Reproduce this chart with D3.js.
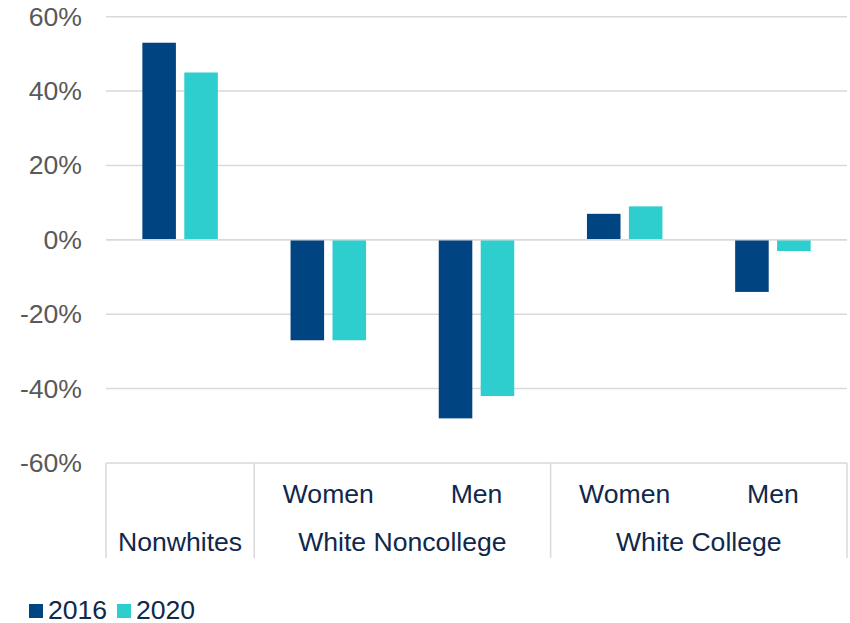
<!DOCTYPE html>
<html><head><meta charset="utf-8">
<script src="https://cdn.jsdelivr.net/npm/d3@7"></script>
<style>body{margin:0;background:#fff}svg{display:block;font-family:"Liberation Sans",Arial,sans-serif}</style>
</head><body><svg id="c" width="850" height="623"></svg>
<script>
const subLabels = ["", "Women", "Men", "Women", "Men"];
const groups = [
  {name: "Nonwhites", span: [0, 0]},
  {name: "White Noncollege", span: [1, 2]},
  {name: "White College", span: [3, 4]}
];
const series = ["2016", "2020"];
const values2016 = [53, -27, -48, 7, -14];
const values2020 = [45, -27, -42, 9, -3];
const yTicks = [60, 40, 20, 0, -20, -40, -60];
const colors = ["#004481", "#2ecece"];

(function () {
const svg = d3.select("#c");
const pLeft = 106, pRight = 847, pTop = 16.7, pBottom = 463;
const fs = 26.6;
const idx = d3.range(subLabels.length);
const x0 = d3.scaleBand().domain(idx).range([pLeft, pRight]);
const x1 = d3.scaleBand().domain(series).range([36.35, x0.bandwidth() - 36.35]).paddingInner(0.2);
const y = d3.scaleLinear().domain([-60, 60]).range([pBottom, pTop]);

// gridlines
svg.append("g").selectAll("line").data(yTicks).join("line")
  .attr("x1", pLeft).attr("x2", pRight)
  .attr("y1", d => y(d)).attr("y2", d => y(d))
  .attr("stroke", "#d9d9d9").attr("stroke-width", 1.5);

// y labels
svg.append("g").selectAll("text").data(yTicks).join("text")
  .attr("x", 82).attr("y", d => y(d) + 9)
  .attr("text-anchor", "end").attr("fill", "#595959")
  .attr("font-size", fs).text(d => d + "%");

// bars
const data = idx.map(i => ({i, vals: [values2016[i], values2020[i]]}));
const g = svg.append("g").selectAll("g").data(data).join("g")
  .attr("transform", d => `translate(${x0(d.i)},0)`);
g.selectAll("rect").data(d => d.vals.map((v, k) => ({v, k})))
  .join("rect")
  .attr("x", d => x1(series[d.k]))
  .attr("width", x1.bandwidth())
  .attr("y", d => y(Math.max(0, d.v)))
  .attr("height", d => Math.abs(y(d.v) - y(0)))
  .attr("fill", d => colors[d.k]);

// zero line on top
svg.append("line").attr("x1", pLeft).attr("x2", pRight).attr("y1", y(0)).attr("y2", y(0))
  .attr("stroke", "#d9d9d9").attr("stroke-width", 1.5);

// category separators
const sepX = [pLeft].concat(groups.map(gr => x0(gr.span[1]) + x0.bandwidth()));
svg.append("g").selectAll("line").data(sepX).join("line")
  .attr("x1", d => d).attr("x2", d => d)
  .attr("y1", pBottom).attr("y2", 558)
  .attr("stroke", "#d9d9d9").attr("stroke-width", 1.5);

const navy = "#10284b";
svg.append("g").selectAll("text").data(idx.filter(i => subLabels[i])).join("text")
  .attr("x", i => x0(i) + x0.bandwidth() / 2).attr("y", 503)
  .attr("text-anchor", "middle").attr("fill", navy).attr("font-size", fs)
  .text(i => subLabels[i]);

svg.append("g").selectAll("text").data(groups).join("text")
  .attr("x", gr => (x0(gr.span[0]) + x0(gr.span[1]) + x0.bandwidth()) / 2).attr("y", 551)
  .attr("text-anchor", "middle").attr("fill", navy).attr("font-size", fs)
  .text(gr => gr.name);

// legend
const legX = [29, 117];
const leg = svg.append("g").selectAll("g").data(series).join("g")
  .attr("transform", (d, k) => `translate(${legX[k]},0)`);
leg.append("rect").attr("x", 0).attr("y", 604).attr("width", 14).attr("height", 14)
  .attr("fill", (d, k) => colors[k]);
leg.append("text").attr("x", 19).attr("y", 618.5).attr("fill", navy).attr("font-size", fs)
  .text(d => d);
})();
</script></body></html>
